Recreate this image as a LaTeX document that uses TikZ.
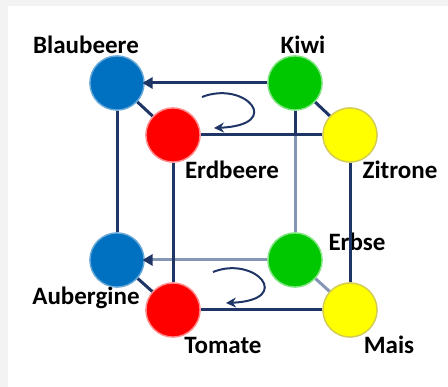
\documentclass[tikz,border=0pt]{standalone}
\usepackage{fontspec}
\setmainfont{Carlito}
\usetikzlibrary{arrows.meta}
\definecolor{navy}{HTML}{1F3566}
\definecolor{lnavy}{HTML}{8595B4}
\definecolor{cblue}{HTML}{0070C0}
\definecolor{cred}{HTML}{FF0000}
\definecolor{cgreen}{HTML}{00C800}
\definecolor{cyellow}{HTML}{FFFF00}
\definecolor{frame}{HTML}{F3F3F3}
\tikzset{
  ball/.style={circle, minimum size=54pt, inner sep=0pt, line width=1.3pt},
  bblue/.style={ball, fill=cblue, draw=cblue!60!white},
  bred/.style={ball, fill=cred, draw=cred!45!white},
  bgreen/.style={ball, fill=cgreen, draw=cgreen!50!white},
  byellow/.style={ball, fill=cyellow, draw=yellow!60!gray},
  lab/.style={font=\fontsize{25}{25}\selectfont\bfseries, text=black, inner sep=0pt},
  edge/.style={draw=navy, line width=3pt},
  ledge/.style={draw=lnavy, line width=3pt},
  turn/.style={draw=navy, line width=2pt, -{Stealth[length=10pt,width=10pt]}}
}
\begin{document}
\begin{tikzpicture}[x=1pt,y=-1pt]
\useasboundingbox (0,0) rectangle (448,387);
\fill[frame] (0,0) rectangle (448,6);
\fill[frame] (0,0) rectangle (8,387);
% labels
\node[lab] (lBlau) at (86,45) {Blaubeere};
\node[lab] (lKiwi) at (303,45) {Kiwi};
\node[lab] (lErd) at (232,170) {Erdbeere};
\node[lab] (lZit) at (400,170) {Zitrone};
\node[lab] (lErb) at (357,242) {Erbse};
\node[lab] (lAub) at (86,298) {Aubergine};
\node[lab] (lTom) at (223,345) {Tomate};
\node[lab] (lMais) at (389,345) {Mais};
% balls (shapes defined, drawn again on top)
\path (117,83) node[bblue] (Blau) {};
\path (295,83) node[bgreen] (Kiwi) {};
\path (173,135) node[bred] (Erd) {};
\path (350,135) node[byellow] (Zit) {};
\path (117,260) node[bblue] (Aub) {};
\path (295,260) node[bgreen] (Erb) {};
\path (173,310) node[bred] (Tom) {};
\path (350,310) node[byellow] (Mais) {};
% back edges (lighter)
\draw[ledge] (Kiwi.south |- Zit) -- (Erb);
\draw[ledge] (Erb) -- (Mais);
\draw[ledge] (Erb) -- (Aub);
% front edges
\draw[edge] (Kiwi) -- (Kiwi.south |- Zit);
\draw[edge] (Kiwi) -- (Blau);
\draw[edge] (Erd) -- (Zit);
\draw[edge] (Blau) -- (Erd);
\draw[edge] (Kiwi) -- (Zit);
\draw[edge] (Blau) -- (Aub);
\draw[edge] (Erd) -- (Tom);
\draw[edge] (Zit) -- (Mais);
\draw[edge] (Aub) -- (Tom);
\draw[edge] (Tom) -- (Mais);
% redraw balls on top
\path (117,83) node[bblue] {};
\path (295,83) node[bgreen] {};
\path (173,135) node[bred] {};
\path (350,135) node[byellow] {};
\path (117,260) node[bblue] {};
\path (295,260) node[bgreen] {};
\path (173,310) node[bred] {};
\path (350,310) node[byellow] {};
% small triangles at the blue balls
\fill[navy] (Blau.east) ++(-2,0) -- ++(10,-6) -- ++(0,12) -- cycle;
\fill[navy] (Aub.east) ++(-2,0) -- ++(10,-6) -- ++(0,12) -- cycle;
% rotation arrows
\coordinate (t1) at (202,97);
\coordinate (t2) at (214,128);
\draw[turn] (t1) .. controls (245,80) and (285,125) .. (t2);
\coordinate (b1) at (213,272);
\coordinate (b2) at (226,303);
\draw[turn] (b1) .. controls (255,255) and (295,300) .. (b2);
\end{tikzpicture}
\end{document}
